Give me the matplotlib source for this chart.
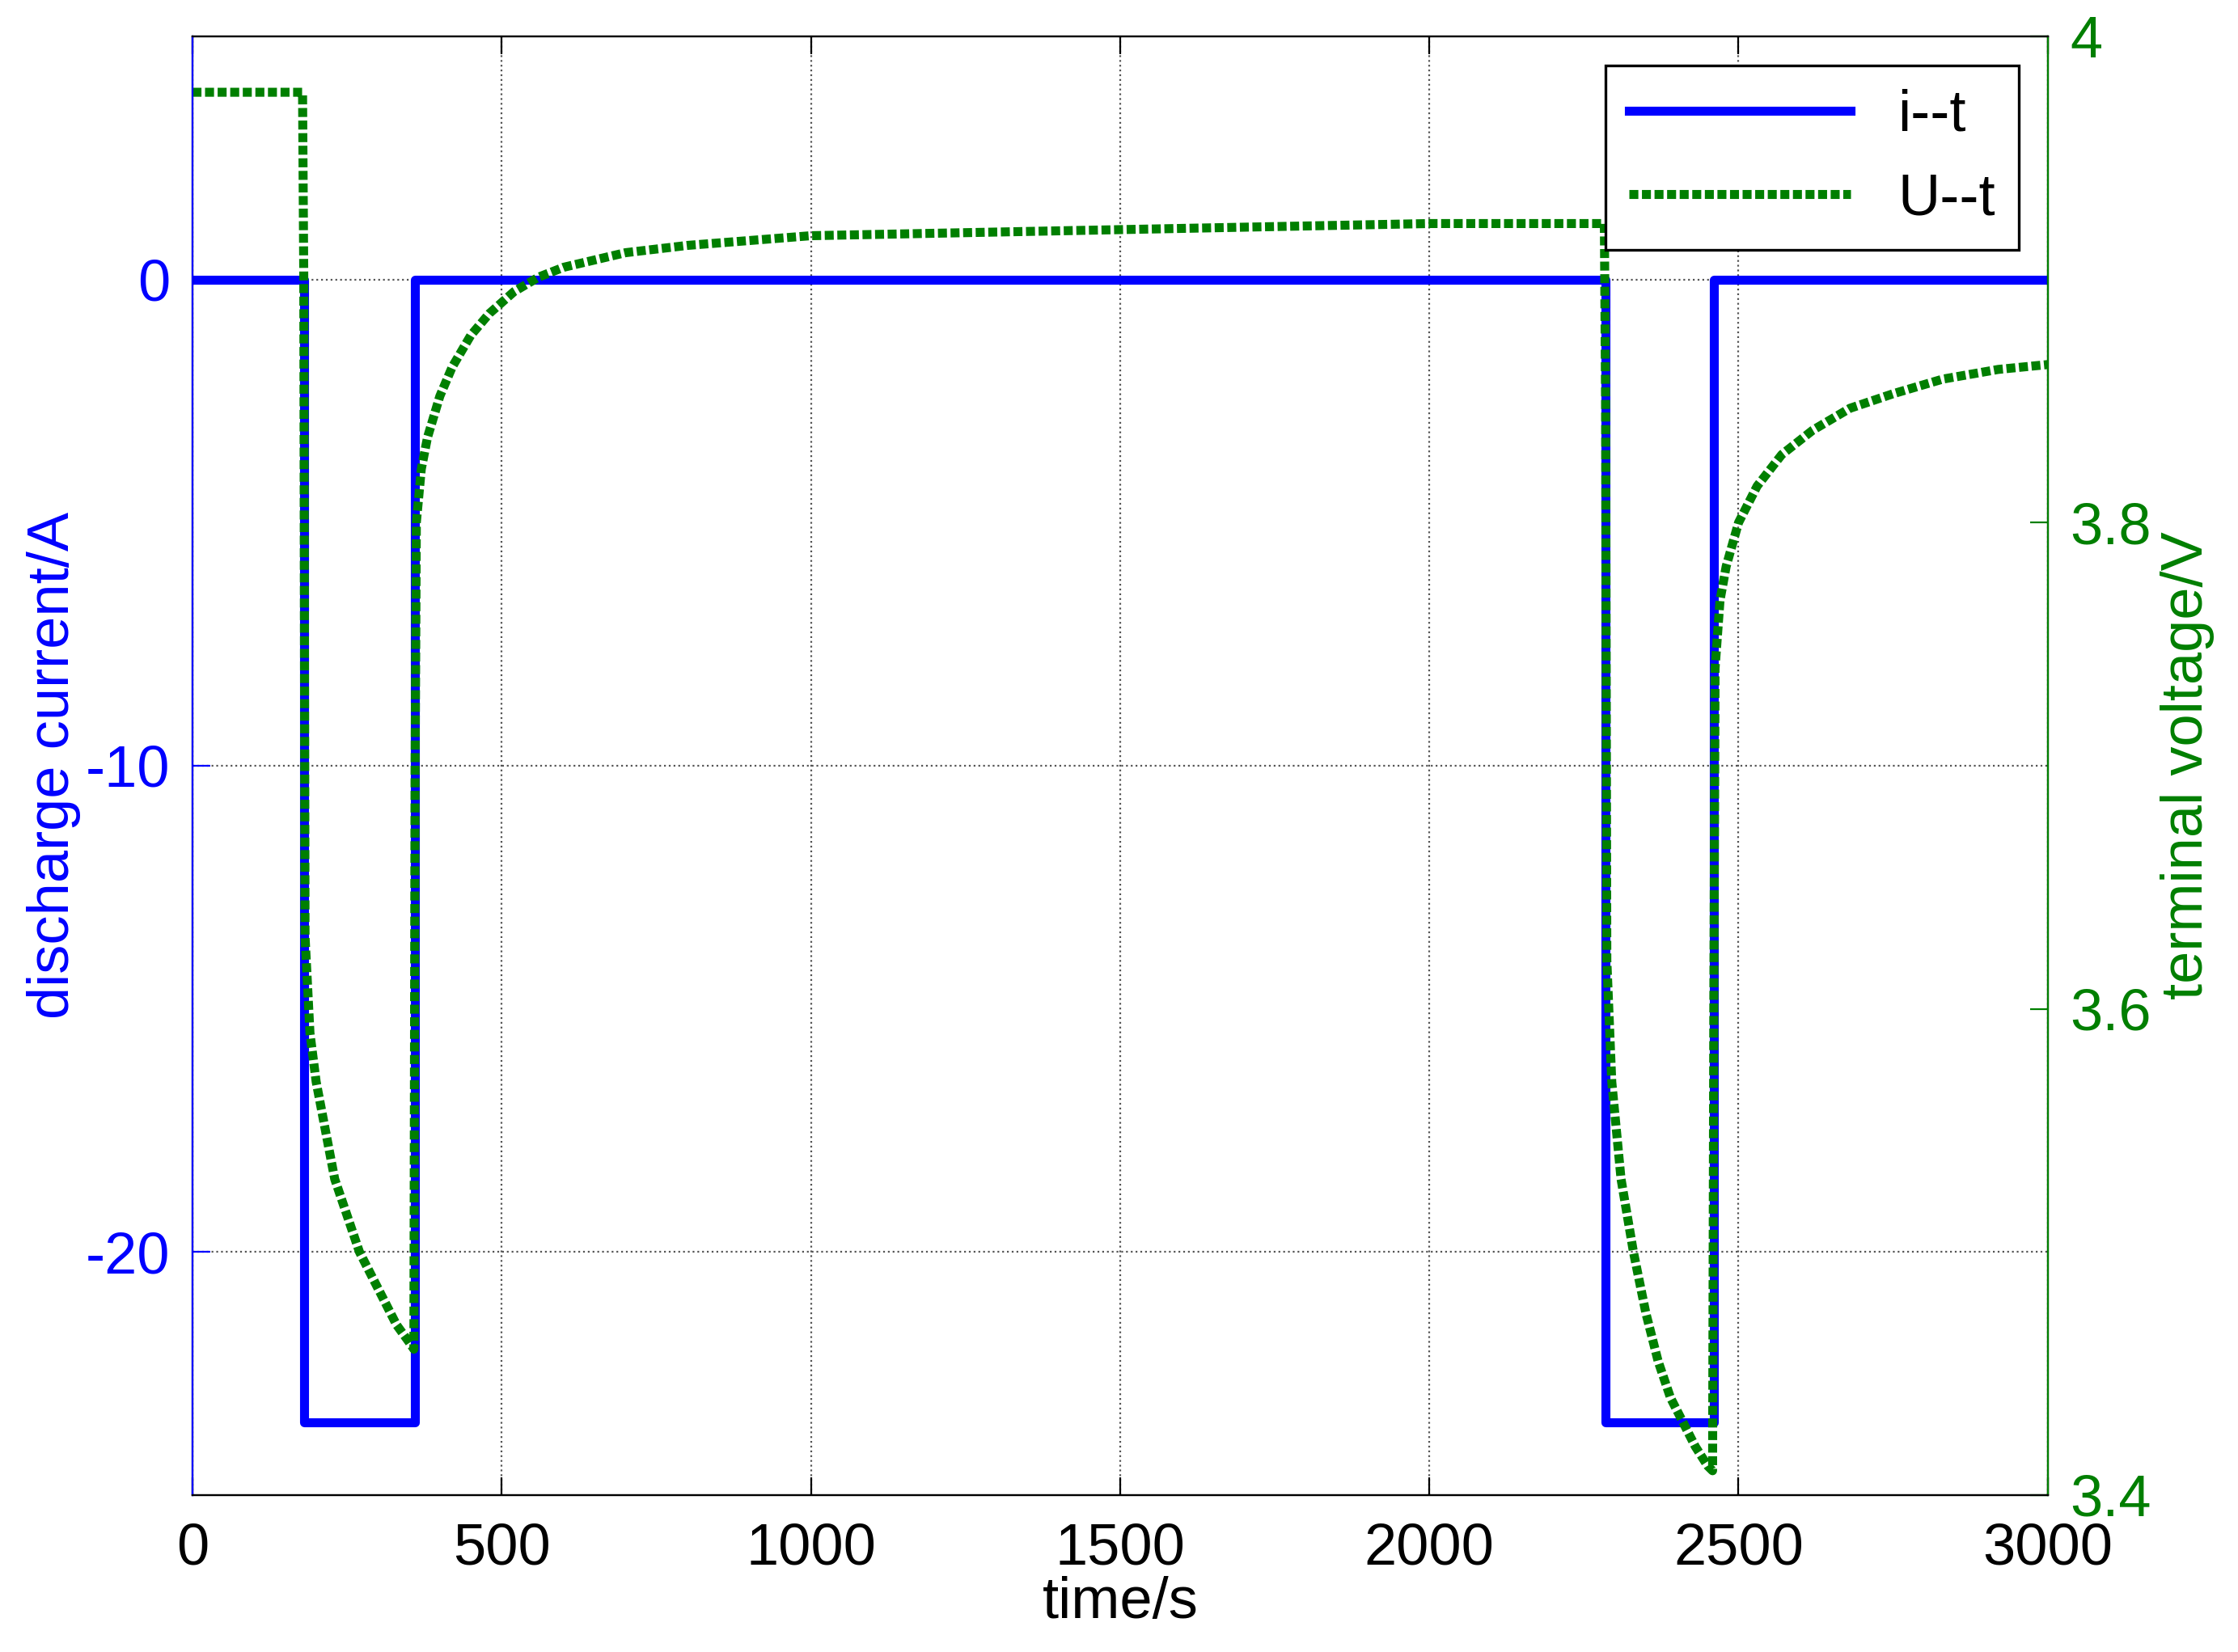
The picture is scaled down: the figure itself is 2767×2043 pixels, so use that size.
import matplotlib
matplotlib.use("Agg")
import matplotlib.pyplot as plt

# discharge current (step profile)
t_current = [0, 180, 180, 360, 360, 2285, 2285, 2460, 2460, 3000]
current = [0, 0, -23.5, -23.5, 0, 0, -23.5, -23.5, 0, 0]

# terminal voltage
t_voltage = [0, 178, 180, 182, 190, 200, 215, 230, 250, 270, 290, 310, 330, 350, 358,
             360, 362, 370, 380, 400, 420, 450, 480, 520, 560, 600, 700, 800, 900,
             1000, 1200, 1400, 1600, 1800, 2000, 2200, 2283,
             2285, 2287, 2295, 2310, 2330, 2350, 2370, 2390, 2410, 2430, 2450, 2458,
             2460, 2462, 2470, 2480, 2500, 2530, 2570, 2620, 2680, 2750, 2830, 2920, 3000]
voltage = [3.977, 3.977, 3.90, 3.63, 3.59, 3.57, 3.55, 3.53, 3.515, 3.50, 3.49, 3.48, 3.47, 3.463, 3.46,
           3.70, 3.80, 3.822, 3.835, 3.852, 3.864, 3.877, 3.886, 3.895, 3.901, 3.905, 3.911, 3.914, 3.916,
           3.918, 3.919, 3.920, 3.921, 3.922, 3.923, 3.923, 3.923,
           3.85, 3.62, 3.57, 3.53, 3.50, 3.475, 3.455, 3.44, 3.43, 3.42, 3.412, 3.41,
           3.60, 3.74, 3.768, 3.782, 3.80, 3.815, 3.828, 3.838, 3.847, 3.853, 3.859, 3.863, 3.865]

plt.rcParams["font.family"] = ["Arial", "Liberation Sans", "DejaVu Sans"]
plt.rcParams["font.size"] = 26
plt.rcParams["axes.unicode_minus"] = False

fig, ax = plt.subplots(figsize=(13.835, 10.215), dpi=200)
fig.subplots_adjust(left=0.086, right=0.915, top=0.978, bottom=0.095)
blue = "#0000ff"
green = "#007f00"

h1, = ax.plot(t_current, current, color=blue, lw=4, label="i--t")
ax.set_xlim(0, 3000)
ax.set_ylim(-25, 5)
ax.set_yticks([-20, -10, 0])
ax.set_xlabel("time/s", labelpad=0)
ax.set_ylabel("discharge current/A", color=blue, labelpad=2)
ax.tick_params(axis="y", colors=blue, direction="in", length=8, pad=10)
ax.tick_params(axis="x", direction="in", length=8, top=True, pad=12)
ax.grid(True, ls=":", lw=0.8, color="#555555")
for lab in ax.get_yticklabels():
    lab.set_color(blue)

ax2 = ax.twinx()
h2, = ax2.plot(t_voltage, voltage, color=green, lw=4, ls=(0, (1, 0.4)), label="U--t")
ax2.set_ylim(3.4, 4.0)
ax2.set_yticks([3.4, 3.6, 3.8, 4.0])
ax2.set_yticklabels(["3.4", "3.6", "3.8", "4"])
ax2.set_ylabel("terminal voltage/V", color=green, labelpad=4)
ax2.tick_params(axis="y", colors=green, direction="in", length=8, pad=10)
ax2.spines["right"].set_color(green)
ax2.spines["left"].set_color(blue)

leg = ax2.legend([h1, h2], ["i--t", "U--t"], loc="upper right", fancybox=False,
                 edgecolor="black", framealpha=1, handlelength=3.8,
                 borderaxespad=0.5, fontsize=26)
leg.get_frame().set_linewidth(1.2)

fig.savefig("out.png", dpi=200)
